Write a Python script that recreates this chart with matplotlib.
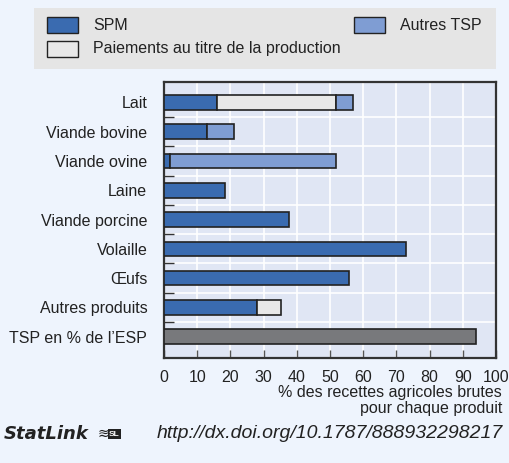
import matplotlib
matplotlib.use('Agg')
import matplotlib.pyplot as plt
from matplotlib.patches import Rectangle
import numpy as np

plt.rcParams['font.family'] = ['Liberation Sans', 'DejaVu Sans']

# Data
categories = ['Lait', 'Viande bovine', 'Viande ovine', 'Laine', 'Viande porcine',
              'Volaille', 'Œufs', 'Autres produits', "TSP en % de l’ESP"]
spm = [15.9, 13.1, 1.9, 18.3, 37.5, 72.9, 55.6, 27.9, 0]
paiements = [35.9, 0, 0, 0, 0, 0, 0, 7.2, 0]
autres_tsp = [5.1, 8.1, 49.9, 0, 0, 0, 0, 0, 0]
tsp_esp = [0, 0, 0, 0, 0, 0, 0, 0, 93.9]
xticks = [0, 10, 20, 30, 40, 50, 60, 70, 80, 90, 100]

c_spm = '#3a6bb0'
c_pai = '#e8e8e8'
c_aut = '#7f9dd3'
c_tsp = '#78797c'
edge = '#222222'
txt = '#222222'
fs = 11.5

W, H = 510, 463
fig = plt.figure(figsize=(5.1, 4.63), dpi=100, facecolor='#eef4fd')
ax = fig.add_axes([164/W, 1-358/H, (496-164)/W, (358-82)/H])
ax.set_facecolor('#e0e6f4')

y = np.arange(len(categories))
spm = np.array(spm)
paiements = np.array(paiements)
autres_tsp = np.array(autres_tsp)
kw = dict(height=0.5, edgecolor=edge, linewidth=1.2, zorder=3)
ax.barh(y, spm, color=c_spm, **kw)
m = paiements > 0
ax.barh(y[m], paiements[m], left=spm[m], color=c_pai, **kw)
m = autres_tsp > 0
ax.barh(y[m], autres_tsp[m], left=(spm + paiements)[m], color=c_aut, **kw)
ax.barh(y[-1], tsp_esp[-1], color=c_tsp, **kw)

ax.set_xlim(0, 100)
ax.set_ylim(len(categories) - 1 + 0.73, -0.7)
ax.set_xticks(xticks)
ax.set_yticks(y)
ax.set_yticklabels(categories, fontsize=fs, color=txt)
ax.set_yticks(np.arange(0.5, len(categories) - 1, 1), minor=True)
ax.tick_params(axis='y', which='major', length=0, pad=12)
ax.tick_params(axis='y', which='minor', direction='in', length=7, color='#333333', width=1)
ax.tick_params(axis='x', direction='in', length=6, color='#555555', width=1,
               labelsize=fs, labelcolor=txt, pad=9)
ax.grid(axis='x', color='white', linewidth=1.2, zorder=1)
ax.grid(axis='y', which='minor', color='white', linewidth=1.2, zorder=1)
ax.set_axisbelow(True)
for s in ax.spines.values():
    s.set_color('#333333')
    s.set_linewidth(1.6)

fig.text(502/W, 1-393/H, '% des recettes agricoles brutes', ha='right', va='center',
         fontsize=fs, color=txt)
fig.text(502/W, 1-409/H, 'pour chaque produit', ha='right', va='center',
         fontsize=fs, color=txt)

# legend box drawn by hand
fig.patches.append(Rectangle((34/W, 1-69/H), 462/W, 61/H, transform=fig.transFigure,
                             facecolor='#e5e5e5', edgecolor='none', zorder=0))
legend_items = [('SPM', c_spm, 47, 25), ('Paiements au titre de la production', c_pai, 47, 49),
                ('Autres TSP', c_aut, 354, 25)]
for label, col, lx, ly in legend_items:
    fig.patches.append(Rectangle((lx/W, 1-(ly+8)/H), 31/W, 16/H, transform=fig.transFigure,
                                 facecolor=col, edgecolor=edge, linewidth=1.0, zorder=2))
    fig.text((lx+46)/W, 1-ly/H, label, ha='left', va='center', fontsize=fs, color=txt)

# StatLink footer
fig.text(4/W, 1-434/H, 'StatLink', ha='left', va='center', fontsize=13,
         fontweight='bold', fontstyle='italic', family=['DejaVu Sans'], color=txt)
fig.text(98/W, 1-434/H, '≋', ha='left', va='center', fontsize=10, color=txt)
fig.text(109/W, 1-434/H, 'SL', ha='left', va='center', fontsize=6, fontweight='bold',
         color='white', bbox=dict(boxstyle='square,pad=0.15', facecolor='#222222', edgecolor='none'))
fig.text(503/W, 1-434/H, 'http://dx.doi.org/10.1787/888932298217', ha='right', va='center',
         fontsize=14, fontstyle='italic', color=txt)

fig.savefig('out.png', dpi=100, facecolor=fig.get_facecolor())
